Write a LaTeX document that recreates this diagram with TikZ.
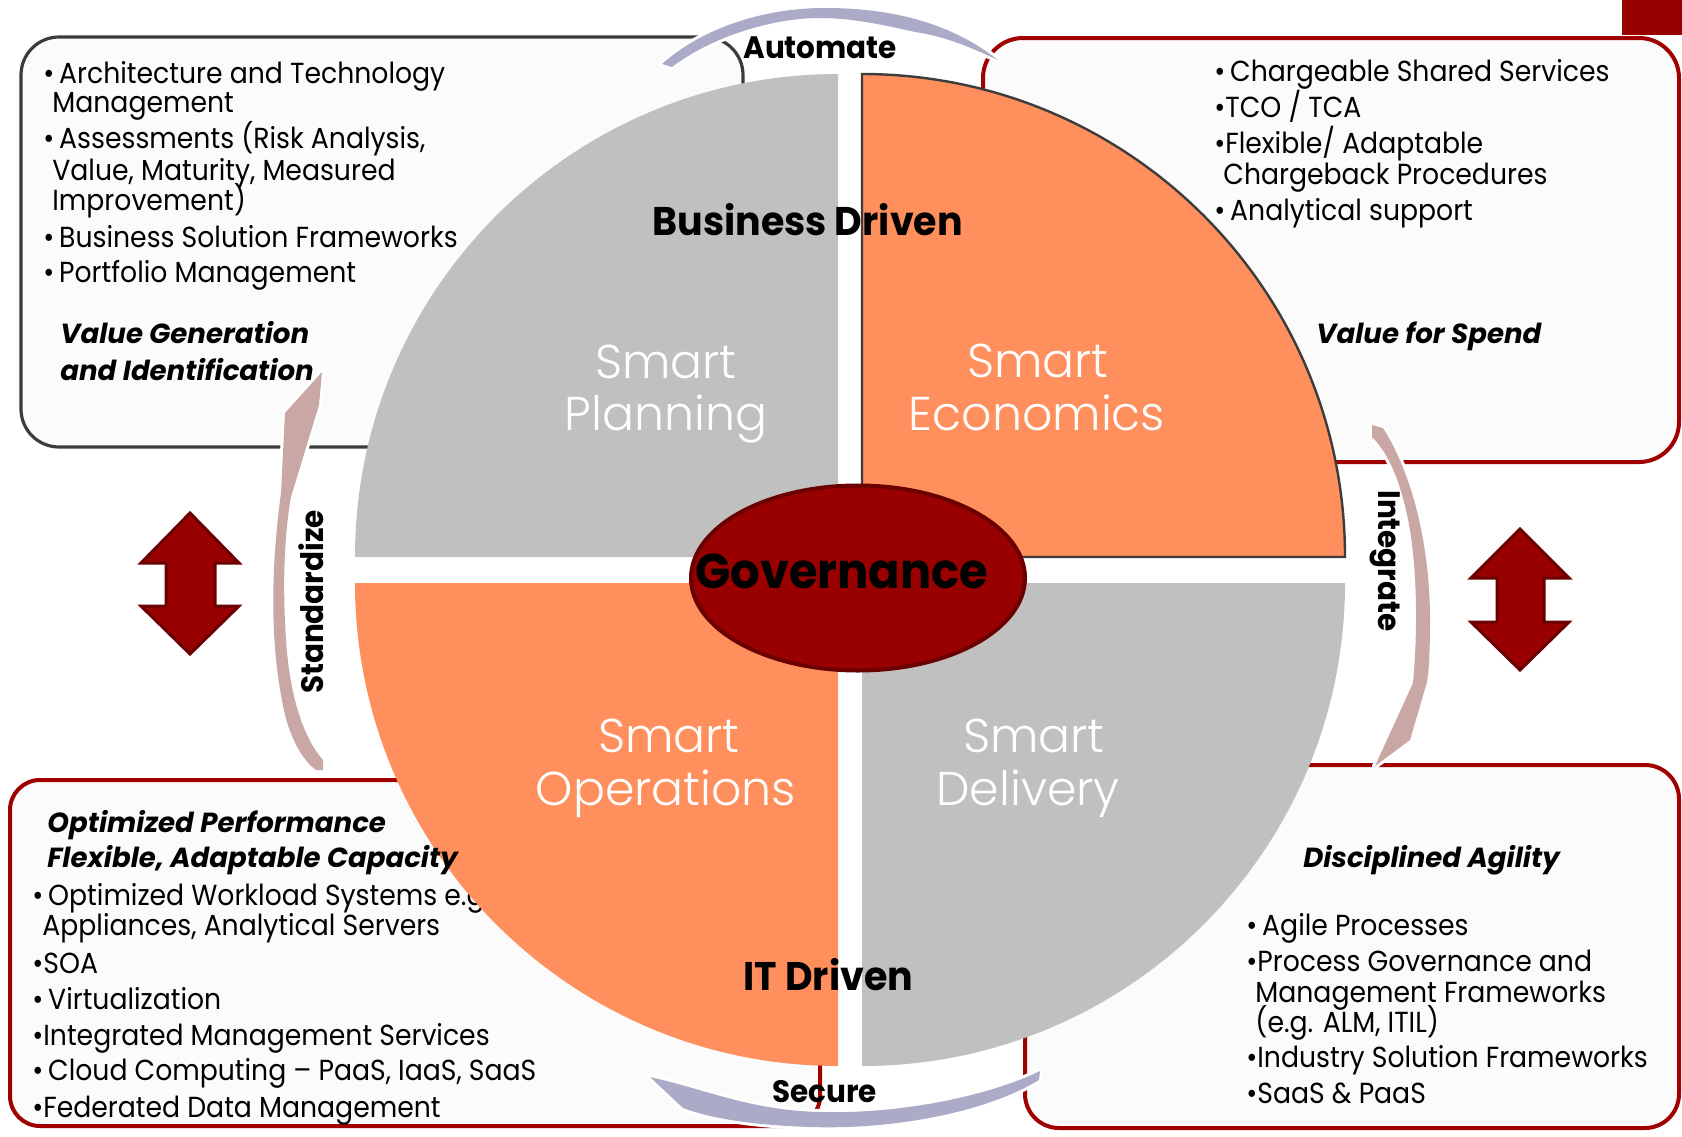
\documentclass[tikz,border=0pt]{standalone}
\usepackage{fontspec}
\setmainfont{Poppins}
\newfontfamily\lightfont{Poppins Light}
\newfontfamily\bulfont{Poppins}[FakeStretch=0.92]
\newfontfamily\condfont{Poppins}[FakeStretch=0.95]
\usetikzlibrary{shapes.geometric}
\definecolor{qgray}{HTML}{C0C0C0}
\definecolor{qorange}{HTML}{FF8F5C}
\definecolor{dred}{HTML}{990000}
\definecolor{dredb}{HTML}{6B0000}
\definecolor{boxred}{HTML}{A00000}
\definecolor{boxgray}{HTML}{3C3C3C}
\definecolor{lav}{HTML}{ABABC8}
\definecolor{pinkg}{HTML}{C9A7A5}
\definecolor{boxfill}{HTML}{FBFBFB}
\begin{document}
\begin{tikzpicture}[x=0.5pt,y=-0.5pt,
  bt/.style={font=\fontsize{14.5}{17}\selectfont\bulfont, anchor=base west, inner sep=0pt},
  hd/.style={font=\fontsize{13.8}{16}\selectfont\bfseries\itshape, anchor=base west, inner sep=0pt},
  big/.style={font=\fontsize{20}{24}\selectfont\condfont\bfseries, anchor=base west, inner sep=0pt},
  mid/.style={font=\fontsize{15.5}{18}\selectfont\condfont\bfseries, inner sep=0pt},
  smart/.style={font=\fontsize{23.7}{28}\selectfont\lightfont, text=white, anchor=base, inner sep=0pt},
  redbox/.style={draw=boxred, line width=2pt, fill=boxfill},
  halo/.style={preaction={draw=white, line width=3pt, line join=round}},
  dblarrow/.style={fill=dred, draw=dredb, line width=1.5pt, line join=miter}
]
\useasboundingbox (0,0) rectangle (1682,1136);
\fill[white] (0,0) rectangle (1682,1136);

% boxes
\draw[draw=boxgray, line width=1.6pt, fill=boxfill, rounded corners=19pt] (21,37) rectangle (743,447);
\draw[redbox, rounded corners=20pt] (983,38) rectangle (1679,462);
\draw[redbox, rounded corners=15pt] (10,780) rectangle (820,1126);
\draw[redbox, rounded corners=17pt] (1025,765) rectangle (1679,1128);
\fill[dred] (1622,0) rectangle (1682,35);

% bullet texts
\node[bt] (tla) at (43,83) {•\,Architecture and Technology};
\node[bt] (tlb) at (52,112) {Management};
\node[bt] (tlc) at (43,148) {•\,Assessments (Risk Analysis,};
\node[bt] (tld) at (52,180) {Value, Maturity, Measured};
\node[bt] (tle) at (52,210) {Improvement)};
\node[bt] (tlf) at (43,247) {•\,Business Solution Frameworks};
\node[bt] (tlg) at (43,282) {•\,Portfolio Management};

\node[bt] (tra) at (1214,81) {•\,Chargeable Shared Services};
\node[bt] (trb) at (1214,117) {•TCO / TCA};
\node[bt] (trc) at (1214,153) {•Flexible/ Adaptable};
\node[bt] (trd) at (1223,184) {Chargeback Procedures};
\node[bt] (tre) at (1214,220) {•\,Analytical support};

\node[bt] (blc) at (32,905) {•\,Optimized Workload Systems e.g.};
\node[bt] (bld) at (42,935) {Appliances, Analytical Servers};
\node[bt] (ble) at (32,973) {•SOA};
\node[bt] (blf) at (32,1009) {•\,Virtualization};
\node[bt] (blg) at (32,1045) {•Integrated Management Services};
\node[bt] (blh) at (32,1080) {•\,Cloud Computing – PaaS, IaaS, SaaS};
\node[bt] (bli) at (32,1117) {•Federated Data Management};

\node[bt] (brb) at (1246,935) {•\,Agile Processes};
\node[bt] (brc) at (1246,971) {•Process Governance and};
\node[bt] (brd) at (1255,1002) {Management Frameworks};
\node[bt] (bre) at (1255,1032) {(e.g. ALM, ITIL)};
\node[bt] (brf) at (1246,1067) {•Industry Solution Frameworks};
\node[bt] (brg) at (1246,1103) {•SaaS \& PaaS};

% quadrants
\fill[qgray] (838,557) -- (355,557) arc[start angle=180, end angle=270, radius=483] -- cycle;
\filldraw[fill=qorange, draw=boxgray, line width=1.2pt] (862,557) -- (1345,557) arc[start angle=0, end angle=-90, radius=483] -- cycle;
\fill[qorange] (838,583) -- (355,583) arc[start angle=180, end angle=90, radius=483] -- cycle;
\fill[qgray] (862,583) -- (1345,583) arc[start angle=0, end angle=90, radius=483] -- cycle;

% smart labels
\node[smart] (sp1) at (666,378) {Smart};
\node[smart] (sp2) at (666,430) {Planning};
\node[smart] (se1) at (1038,377) {Smart};
\node[smart] (se2) at (1037,430) {Economics};
\node[smart] (so1) at (669,752) {Smart};
\node[smart] (so2) at (666,805) {Operations};
\node[smart] (sd1) at (1034,752) {Smart};
\node[smart] (sd2) at (1028,805) {Delivery};

% governance
\node[ellipse, fill=dred, draw=dredb, line width=2pt, minimum width=167pt, minimum height=92.5pt, inner sep=0pt] (gov) at (858,578) {};
\node[font=\fontsize{24.4}{28}\selectfont\condfont\bfseries, anchor=base west, inner sep=0pt] (govt) at (695,588) {Governance};

% curved arrows
\fill[lav, halo] (662,64) .. controls (700,30) and (760,8) .. (825,8) .. controls (890,8) and (950,22) .. (998,60)
  .. controls (980,52) and (950,37) .. (915,32) .. controls (880,24) and (850,18) .. (820,18)
  .. controls (770,18) and (710,38) .. (672,67) -- cycle;
\fill[lav, halo] (650,1077) .. controls (700,1088) and (740,1106) .. (800,1111) .. controls (880,1117) and (980,1100) .. (1040,1071)
  -- (1039,1080) .. controls (990,1110) and (900,1130) .. (810,1127) .. controls (750,1125) and (710,1118) .. (683,1108) -- cycle;
\fill[pinkg, halo] (322,372) -- (285,413) -- (281,493) .. controls (272,560) and (268,640) .. (285,715)
  .. controls (293,745) and (305,762) .. (316,770) -- (323,770) -- (323,760)
  .. controls (305,740) and (290,700) .. (286,640) .. controls (282,580) and (285,530) .. (291,497) -- (319,405) -- cycle;
\fill[pinkg, halo] (1372,425) -- (1383,428) .. controls (1410,470) and (1430,540) .. (1430,620)
  .. controls (1430,650) and (1429,670) .. (1427,682) -- (1410,740) -- (1375,766) -- (1413,683)
  .. controls (1417,640) and (1418,580) .. (1410,530) .. controls (1402,485) and (1390,455) .. (1372,437) -- cycle;

% labels
\node[big] (bd) at (652,235) {Business Driven};
\node[big] (itd) at (743,990) {IT Driven};
\node[mid, anchor=base west] (aut) at (743,58) {Automate};
\node[mid, anchor=base west] (sec) at (772,1102) {Secure};
\node[mid, rotate=90] (std) at (311,602) {Standardize};
\node[mid, rotate=-90] (intg) at (1385,561) {Integrate};

% headings
\node[hd] (tlh) at (60,343) {Value Generation};
\node[hd] (tli) at (60,380) {and Identification};
\node[hd] (trf) at (1316,343) {Value for Spend};
\node[hd] (bla) at (47,832) {Optimized Performance};
\node[hd] (blb) at (47,867) {Flexible, Adaptable Capacity};
\node[hd] (bra) at (1303,867) {Disciplined Agility};

% double arrows
\draw[dblarrow] (190,513) -- (239,563) -- (215,563) -- (215,606) -- (239,606) -- (190,654)
  -- (141,606) -- (166,606) -- (166,563) -- (141,563) -- cycle;
\draw[dblarrow] (1520,529) -- (1569,578) -- (1544,578) -- (1544,622) -- (1569,622) -- (1520,670)
  -- (1471,622) -- (1497,622) -- (1497,578) -- (1471,578) -- cycle;
\end{tikzpicture}
\end{document}
